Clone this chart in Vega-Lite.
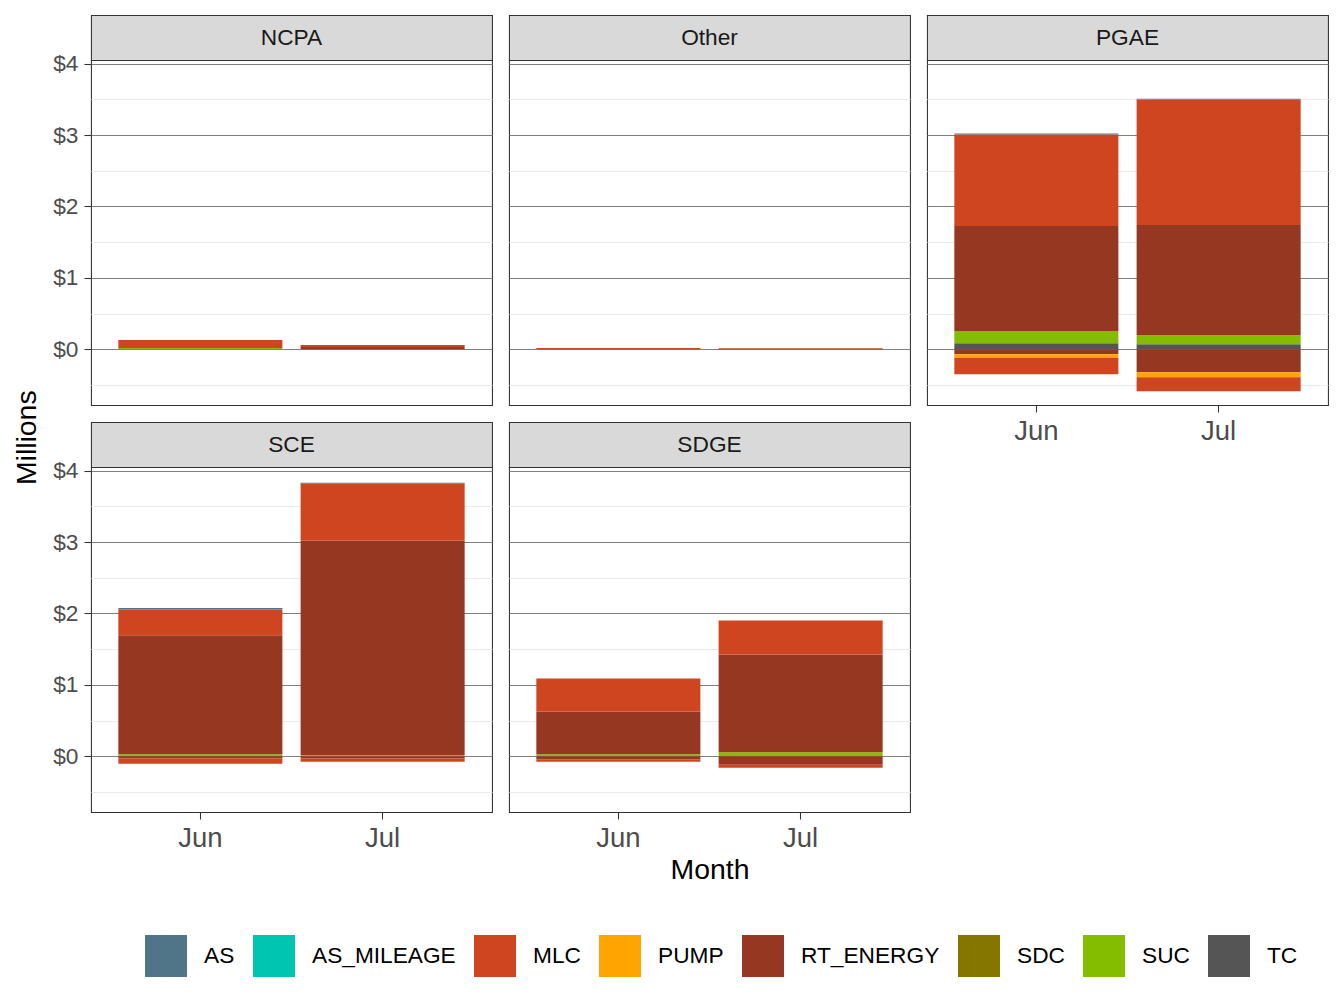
{
  "$schema": "https://vega.github.io/schema/vega-lite/v6.json",
  "padding": {"left": 12, "top": 14, "right": 10, "bottom": 5},
  "background": "white",
  "title": {"text": "Millions", "orient": "left", "anchor": "middle", "fontSize": 28.4, "fontWeight": "normal", "color": "#000000", "font": "Liberation Sans", "offset": 10, "dx": 58},
  "datasets": {
    "costs": [
      {"area": "NCPA", "month": "Jun", "type": "SUC", "value": 0.019},
      {"area": "NCPA", "month": "Jun", "type": "MLC", "value": 0.112},
      {"area": "NCPA", "month": "Jul", "type": "RT_ENERGY", "value": 0.033},
      {"area": "NCPA", "month": "Jul", "type": "MLC", "value": 0.028},
      {"area": "Other", "month": "Jun", "type": "MLC", "value": 0.019},
      {"area": "Other", "month": "Jul", "type": "RT_ENERGY", "value": 0.005},
      {"area": "Other", "month": "Jul", "type": "MLC", "value": 0.008},
      {"area": "PGAE", "month": "Jun", "type": "TC", "value": 0.084},
      {"area": "PGAE", "month": "Jun", "type": "SUC", "value": 0.173},
      {"area": "PGAE", "month": "Jun", "type": "RT_ENERGY", "value": 1.468},
      {"area": "PGAE", "month": "Jun", "type": "MLC", "value": 1.281},
      {"area": "PGAE", "month": "Jun", "type": "AS", "value": 0.014},
      {"area": "PGAE", "month": "Jun", "type": "RT_ENERGY", "value": -0.07},
      {"area": "PGAE", "month": "Jun", "type": "PUMP", "value": -0.05},
      {"area": "PGAE", "month": "Jun", "type": "MLC", "value": -0.229},
      {"area": "PGAE", "month": "Jul", "type": "TC", "value": 0.07},
      {"area": "PGAE", "month": "Jul", "type": "SUC", "value": 0.126},
      {"area": "PGAE", "month": "Jul", "type": "RT_ENERGY", "value": 1.543},
      {"area": "PGAE", "month": "Jul", "type": "MLC", "value": 1.758},
      {"area": "PGAE", "month": "Jul", "type": "AS", "value": 0.01},
      {"area": "PGAE", "month": "Jul", "type": "RT_ENERGY", "value": -0.323},
      {"area": "PGAE", "month": "Jul", "type": "PUMP", "value": -0.07},
      {"area": "PGAE", "month": "Jul", "type": "MLC", "value": -0.196},
      {"area": "SCE", "month": "Jun", "type": "SUC", "value": 0.028},
      {"area": "SCE", "month": "Jun", "type": "RT_ENERGY", "value": 1.667},
      {"area": "SCE", "month": "Jun", "type": "MLC", "value": 0.361},
      {"area": "SCE", "month": "Jun", "type": "AS", "value": 0.019},
      {"area": "SCE", "month": "Jun", "type": "RT_ENERGY", "value": -0.028},
      {"area": "SCE", "month": "Jun", "type": "MLC", "value": -0.075},
      {"area": "SCE", "month": "Jul", "type": "SUC", "value": 0.014},
      {"area": "SCE", "month": "Jul", "type": "RT_ENERGY", "value": 3.006},
      {"area": "SCE", "month": "Jul", "type": "MLC", "value": 0.797},
      {"area": "SCE", "month": "Jul", "type": "AS", "value": 0.014},
      {"area": "SCE", "month": "Jul", "type": "RT_ENERGY", "value": -0.028},
      {"area": "SCE", "month": "Jul", "type": "MLC", "value": -0.047},
      {"area": "SDGE", "month": "Jun", "type": "SUC", "value": 0.028},
      {"area": "SDGE", "month": "Jun", "type": "RT_ENERGY", "value": 0.598},
      {"area": "SDGE", "month": "Jun", "type": "MLC", "value": 0.463},
      {"area": "SDGE", "month": "Jun", "type": "RT_ENERGY", "value": -0.042},
      {"area": "SDGE", "month": "Jun", "type": "MLC", "value": -0.033},
      {"area": "SDGE", "month": "Jul", "type": "SUC", "value": 0.056},
      {"area": "SDGE", "month": "Jul", "type": "RT_ENERGY", "value": 1.369},
      {"area": "SDGE", "month": "Jul", "type": "MLC", "value": 0.477},
      {"area": "SDGE", "month": "Jul", "type": "RT_ENERGY", "value": -0.117},
      {"area": "SDGE", "month": "Jul", "type": "MLC", "value": -0.042}
    ]
  },
  "resolve": {"scale": {"color": "shared"}, "legend": {"color": "shared"}},
  "spacing": 15,
  "hconcat": [
    {
      "resolve": {"scale": {"color": "shared"}, "legend": {"color": "shared"}},
      "spacing": 15,
      "vconcat": [
        {
          "bounds": "flush", "spacing": 0,
          "resolve": {"scale": {"color": "shared"}, "legend": {"color": "shared"}},
          "vconcat": [
            {"width": 401, "height": 45, "view": {"fill": "#D9D9D9", "stroke": "#333333", "strokeWidth": 1.07},
             "data": {"values": [{"panel": "NCPA"}]},
             "mark": {"type": "text", "fontSize": 22.7, "color": "#1A1A1A", "font": "Liberation Sans"},
             "encoding": {"text": {"field": "panel"}}},
            {"width": 401, "height": 345,
             "data": {"name": "costs"},
             "transform": [{"filter": "datum.area === 'NCPA'"}],
             "mark": {"type": "bar"},
             "encoding": {
               "x": {"field": "month", "type": "nominal", "sort": ["Jun", "Jul"], "scale": {"paddingInner": 0.1, "paddingOuter": 0.15}, "axis": null},
               "y": {"field": "value", "type": "quantitative", "stack": "zero", "scale": {"domain": [-0.78, 4.05], "nice": false, "zero": false},
                     "axis": {"title": null, "values": [-0.5, 0, 0.5, 1, 1.5, 2, 2.5, 3, 3.5, 4], "labelExpr": "datum.value % 1 === 0 ? '$' + datum.value : ''", "grid": true, "gridColor": {"condition": {"test": "datum.value % 1 === 0", "value": "#7F7F7F"}, "value": "#EBEBEB"}, "tickOpacity": {"condition": {"test": "datum.value % 1 === 0", "value": 1}, "value": 0}}},
               "color": {"field": "type", "type": "nominal", "scale": {"domain": ["AS", "AS_MILEAGE", "MLC", "PUMP", "RT_ENERGY", "SDC", "SUC", "TC"], "range": ["#507488", "#00C6B1", "#CF4520", "#FFA400", "#963821", "#857600", "#84BD00", "#555555"]},
                         "legend": {"title": null, "orient": "none", "legendX": 54, "legendY": 920, "direction": "horizontal", "columns": 8, "symbolType": "square", "symbolSize": 1764, "symbolStrokeWidth": 0, "symbolOpacity": 1, "labelFontSize": 22.7, "labelColor": "#000000", "labelOffset": 17, "columnPadding": 18, "padding": 0, "labelFont": "Liberation Sans", "labelLimit": 300}},
               "order": {"field": "type", "sort": "descending"}
             }}
          ]
        },
        {
          "bounds": "flush", "spacing": 0,
          "resolve": {"scale": {"color": "shared"}, "legend": {"color": "shared"}},
          "vconcat": [
            {"width": 401, "height": 45, "view": {"fill": "#D9D9D9", "stroke": "#333333", "strokeWidth": 1.07},
             "data": {"values": [{"panel": "SCE"}]},
             "mark": {"type": "text", "fontSize": 22.7, "color": "#1A1A1A", "font": "Liberation Sans"},
             "encoding": {"text": {"field": "panel"}}},
            {"width": 401, "height": 345,
             "data": {"name": "costs"},
             "transform": [{"filter": "datum.area === 'SCE'"}],
             "mark": {"type": "bar"},
             "encoding": {
               "x": {"field": "month", "type": "nominal", "sort": ["Jun", "Jul"], "scale": {"paddingInner": 0.1, "paddingOuter": 0.15}, "axis": {"title": null, "labelAngle": 0}},
               "y": {"field": "value", "type": "quantitative", "stack": "zero", "scale": {"domain": [-0.78, 4.05], "nice": false, "zero": false},
                     "axis": {"title": null, "values": [-0.5, 0, 0.5, 1, 1.5, 2, 2.5, 3, 3.5, 4], "labelExpr": "datum.value % 1 === 0 ? '$' + datum.value : ''", "grid": true, "gridColor": {"condition": {"test": "datum.value % 1 === 0", "value": "#7F7F7F"}, "value": "#EBEBEB"}, "tickOpacity": {"condition": {"test": "datum.value % 1 === 0", "value": 1}, "value": 0}}},
               "color": {"field": "type", "type": "nominal", "scale": {"domain": ["AS", "AS_MILEAGE", "MLC", "PUMP", "RT_ENERGY", "SDC", "SUC", "TC"], "range": ["#507488", "#00C6B1", "#CF4520", "#FFA400", "#963821", "#857600", "#84BD00", "#555555"]},
                         "legend": {"title": null, "orient": "none", "legendX": 54, "legendY": 920, "direction": "horizontal", "columns": 8, "symbolType": "square", "symbolSize": 1764, "symbolStrokeWidth": 0, "symbolOpacity": 1, "labelFontSize": 22.7, "labelColor": "#000000", "labelOffset": 17, "columnPadding": 18, "padding": 0, "labelFont": "Liberation Sans", "labelLimit": 300}},
               "order": {"field": "type", "sort": "descending"}
             }}
          ]
        }
      ]
    },
    {
      "resolve": {"scale": {"color": "shared"}, "legend": {"color": "shared"}},
      "spacing": 15,
      "vconcat": [
        {
          "bounds": "flush", "spacing": 0,
          "resolve": {"scale": {"color": "shared"}, "legend": {"color": "shared"}},
          "vconcat": [
            {"width": 401, "height": 45, "view": {"fill": "#D9D9D9", "stroke": "#333333", "strokeWidth": 1.07},
             "data": {"values": [{"panel": "Other"}]},
             "mark": {"type": "text", "fontSize": 22.7, "color": "#1A1A1A", "font": "Liberation Sans"},
             "encoding": {"text": {"field": "panel"}}},
            {"width": 401, "height": 345,
             "data": {"name": "costs"},
             "transform": [{"filter": "datum.area === 'Other'"}],
             "mark": {"type": "bar"},
             "encoding": {
               "x": {"field": "month", "type": "nominal", "sort": ["Jun", "Jul"], "scale": {"paddingInner": 0.1, "paddingOuter": 0.15}, "axis": null},
               "y": {"field": "value", "type": "quantitative", "stack": "zero", "scale": {"domain": [-0.78, 4.05], "nice": false, "zero": false},
                     "axis": {"title": null, "values": [-0.5, 0, 0.5, 1, 1.5, 2, 2.5, 3, 3.5, 4], "labels": false, "ticks": false, "domain": false, "grid": true, "gridColor": {"condition": {"test": "datum.value % 1 === 0", "value": "#7F7F7F"}, "value": "#EBEBEB"}}},
               "color": {"field": "type", "type": "nominal", "scale": {"domain": ["AS", "AS_MILEAGE", "MLC", "PUMP", "RT_ENERGY", "SDC", "SUC", "TC"], "range": ["#507488", "#00C6B1", "#CF4520", "#FFA400", "#963821", "#857600", "#84BD00", "#555555"]},
                         "legend": {"title": null, "orient": "none", "legendX": 54, "legendY": 920, "direction": "horizontal", "columns": 8, "symbolType": "square", "symbolSize": 1764, "symbolStrokeWidth": 0, "symbolOpacity": 1, "labelFontSize": 22.7, "labelColor": "#000000", "labelOffset": 17, "columnPadding": 18, "padding": 0, "labelFont": "Liberation Sans", "labelLimit": 300}},
               "order": {"field": "type", "sort": "descending"}
             }}
          ]
        },
        {
          "bounds": "flush", "spacing": 0,
          "resolve": {"scale": {"color": "shared"}, "legend": {"color": "shared"}},
          "vconcat": [
            {"width": 401, "height": 45, "view": {"fill": "#D9D9D9", "stroke": "#333333", "strokeWidth": 1.07},
             "data": {"values": [{"panel": "SDGE"}]},
             "mark": {"type": "text", "fontSize": 22.7, "color": "#1A1A1A", "font": "Liberation Sans"},
             "encoding": {"text": {"field": "panel"}}},
            {"width": 401, "height": 345,
             "data": {"name": "costs"},
             "transform": [{"filter": "datum.area === 'SDGE'"}],
             "mark": {"type": "bar"},
             "encoding": {
               "x": {"field": "month", "type": "nominal", "sort": ["Jun", "Jul"], "scale": {"paddingInner": 0.1, "paddingOuter": 0.15}, "axis": {"title": "Month", "labelAngle": 0}},
               "y": {"field": "value", "type": "quantitative", "stack": "zero", "scale": {"domain": [-0.78, 4.05], "nice": false, "zero": false},
                     "axis": {"title": null, "values": [-0.5, 0, 0.5, 1, 1.5, 2, 2.5, 3, 3.5, 4], "labels": false, "ticks": false, "domain": false, "grid": true, "gridColor": {"condition": {"test": "datum.value % 1 === 0", "value": "#7F7F7F"}, "value": "#EBEBEB"}}},
               "color": {"field": "type", "type": "nominal", "scale": {"domain": ["AS", "AS_MILEAGE", "MLC", "PUMP", "RT_ENERGY", "SDC", "SUC", "TC"], "range": ["#507488", "#00C6B1", "#CF4520", "#FFA400", "#963821", "#857600", "#84BD00", "#555555"]},
                         "legend": {"title": null, "orient": "none", "legendX": 54, "legendY": 920, "direction": "horizontal", "columns": 8, "symbolType": "square", "symbolSize": 1764, "symbolStrokeWidth": 0, "symbolOpacity": 1, "labelFontSize": 22.7, "labelColor": "#000000", "labelOffset": 17, "columnPadding": 18, "padding": 0, "labelFont": "Liberation Sans", "labelLimit": 300}},
               "order": {"field": "type", "sort": "descending"}
             }}
          ]
        }
      ]
    },
    {
      "bounds": "flush", "spacing": 0,
      "resolve": {"scale": {"color": "shared"}, "legend": {"color": "shared"}},
      "vconcat": [
        {"width": 401, "height": 45, "view": {"fill": "#D9D9D9", "stroke": "#333333", "strokeWidth": 1.07},
         "data": {"values": [{"panel": "PGAE"}]},
         "mark": {"type": "text", "fontSize": 22.7, "color": "#1A1A1A", "font": "Liberation Sans"},
         "encoding": {"text": {"field": "panel"}}},
        {"width": 401, "height": 345,
         "data": {"name": "costs"},
         "transform": [{"filter": "datum.area === 'PGAE'"}],
         "mark": {"type": "bar"},
         "encoding": {
           "x": {"field": "month", "type": "nominal", "sort": ["Jun", "Jul"], "scale": {"paddingInner": 0.1, "paddingOuter": 0.15}, "axis": {"title": null, "labelAngle": 0}},
           "y": {"field": "value", "type": "quantitative", "stack": "zero", "scale": {"domain": [-0.78, 4.05], "nice": false, "zero": false},
                 "axis": {"title": null, "values": [-0.5, 0, 0.5, 1, 1.5, 2, 2.5, 3, 3.5, 4], "labels": false, "ticks": false, "domain": false, "grid": true, "gridColor": {"condition": {"test": "datum.value % 1 === 0", "value": "#7F7F7F"}, "value": "#EBEBEB"}}},
           "color": {"field": "type", "type": "nominal", "scale": {"domain": ["AS", "AS_MILEAGE", "MLC", "PUMP", "RT_ENERGY", "SDC", "SUC", "TC"], "range": ["#507488", "#00C6B1", "#CF4520", "#FFA400", "#963821", "#857600", "#84BD00", "#555555"]},
                     "legend": {"title": null, "orient": "none", "legendX": 54, "legendY": 920, "direction": "horizontal", "columns": 8, "symbolType": "square", "symbolSize": 1764, "symbolStrokeWidth": 0, "symbolOpacity": 1, "labelFontSize": 22.7, "labelColor": "#000000", "labelOffset": 17, "columnPadding": 18, "padding": 0, "labelFont": "Liberation Sans", "labelLimit": 300}},
           "order": {"field": "type", "sort": "descending"}
         }}
      ]
    }
  ],
  "config": {
    "font": "Liberation Sans",
    "view": {"stroke": "#333333", "strokeWidth": 1.07},
    "axis": {"gridWidth": 1, "domain": false, "tickColor": "#333333", "tickWidth": 1.07, "tickSize": 7, "labelColor": "#4D4D4D", "titleColor": "#000000", "titleFontWeight": "normal", "titleFontSize": 28.4, "labelFont": "Liberation Sans", "titleFont": "Liberation Sans"},
    "axisY": {"labelFontSize": 22.7, "labelPadding": 6},
    "axisX": {"labelFontSize": 27.5, "labelPadding": 5, "grid": false, "titlePadding": 5}
  }
}
